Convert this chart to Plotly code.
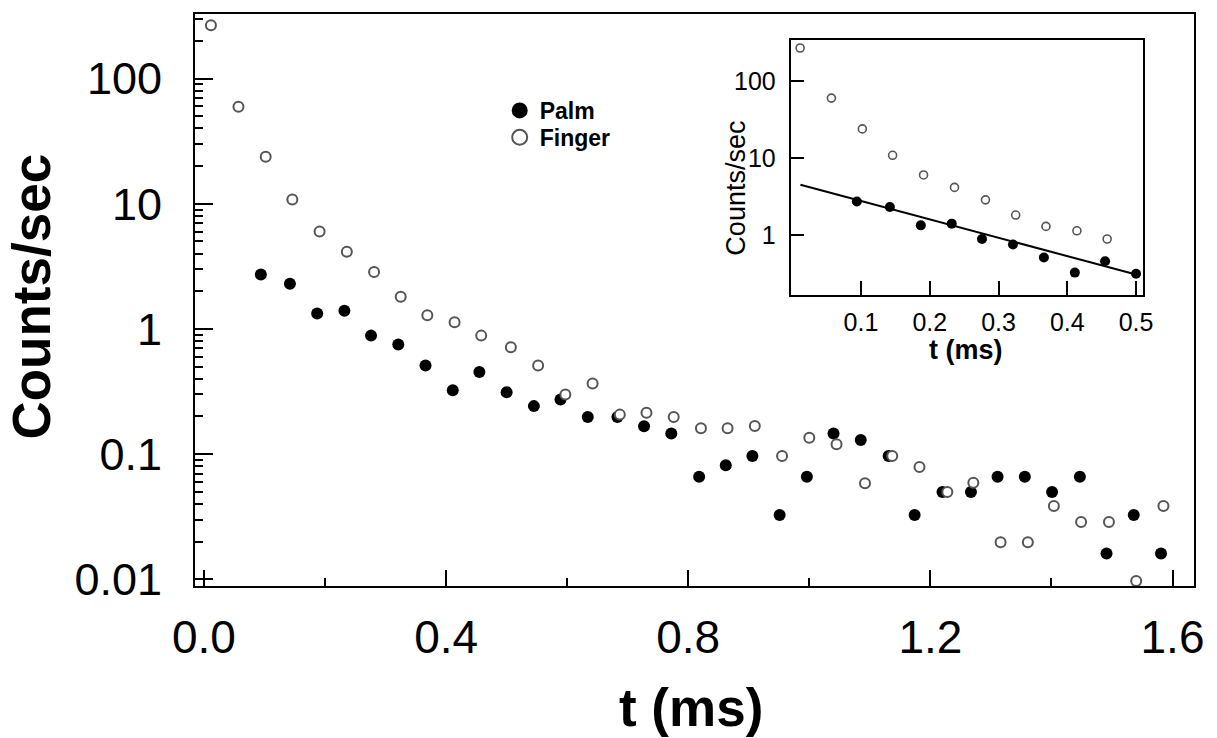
import plotly.graph_objects as go

# ---------------- data ----------------
palm_t = [0.094, 0.142, 0.187, 0.232, 0.276, 0.321, 0.366, 0.411, 0.455, 0.500,
          0.545, 0.589, 0.634, 0.683, 0.727, 0.772, 0.818, 0.862, 0.906, 0.951,
          0.996, 1.040, 1.085, 1.131, 1.174, 1.220, 1.267, 1.311, 1.356, 1.401,
          1.447, 1.491, 1.536, 1.581]
palm_counts = [2.72, 2.30, 1.33, 1.40, 0.885, 0.751, 0.51, 0.324, 0.454, 0.313,
               0.242, 0.273, 0.198, 0.198, 0.167, 0.146, 0.066, 0.0814, 0.0966, 0.0327,
               0.066, 0.146, 0.13, 0.0966, 0.0327, 0.0499, 0.0499, 0.066, 0.066, 0.0499,
               0.066, 0.0161, 0.0327, 0.0161]

finger_t = [0.0115, 0.057, 0.102, 0.146, 0.191, 0.236, 0.281, 0.325, 0.369, 0.414,
            0.458, 0.507, 0.552, 0.597, 0.642, 0.687, 0.731, 0.776, 0.821, 0.865,
            0.910, 0.955, 1.000, 1.045, 1.092, 1.137, 1.182, 1.228, 1.271, 1.316,
            1.361, 1.404, 1.449, 1.495, 1.540, 1.585]
finger_counts = [267, 59.7, 23.8, 10.8, 6.0, 4.14, 2.85, 1.81, 1.29, 1.13,
                 0.885, 0.715, 0.51, 0.30, 0.367, 0.207, 0.214, 0.198, 0.161, 0.161,
                 0.168, 0.0966, 0.135, 0.12, 0.0585, 0.0966, 0.0789, 0.0499, 0.0592, 0.0198,
                 0.0198, 0.0385, 0.0287, 0.0287, 0.0097, 0.0385]

# exponential fit to palm data shown in the inset (end points of the straight line on log scale)
fit_t = [0.012, 0.500]
fit_counts = [4.48, 0.306]

inset_t_max = 0.502

x_ticks = [0.0, 0.4, 0.8, 1.2, 1.6]
x_tick_text = ["0.0", "0.4", "0.8", "1.2", "1.6"]
x_minor = [0.2, 0.6, 1.0, 1.4]
y_ticks = [0.01, 0.1, 1, 10, 100]
y_tick_text = ["0.01", "0.1", "1", "10", "100"]
y_minor = [m * 10 ** e for e in range(-2, 3) for m in range(2, 10)]

inset_x_ticks = [0.1, 0.2, 0.3, 0.4, 0.5]
inset_x_text = ["0.1", "0.2", "0.3", "0.4", "0.5"]
inset_y_ticks = [1, 10, 100]
inset_y_text = ["1", "10", "100"]

FONT = "Liberation Sans, Arial, sans-serif"

# ---------------- figure ----------------
fig = go.Figure()

palm_marker = dict(symbol="circle", size=12, color="black", line=dict(width=0))
finger_marker = dict(symbol="circle", size=10, color="white", line=dict(color="#555555", width=2))

fig.add_trace(go.Scatter(x=palm_t, y=palm_counts, mode="markers", marker=palm_marker,
                         showlegend=False, xaxis="x", yaxis="y"))
fig.add_trace(go.Scatter(x=finger_t, y=finger_counts, mode="markers", marker=finger_marker,
                         showlegend=False, xaxis="x", yaxis="y"))

# legend entries (one legend box each, to control the row spacing)
fig.add_trace(go.Scatter(x=[None], y=[None], mode="markers", name="Palm", legend="legend",
                         marker=dict(symbol="circle", size=16, color="black")))
fig.add_trace(go.Scatter(x=[None], y=[None], mode="markers", name="Finger", legend="legend2",
                         marker=dict(symbol="circle", size=15, color="white",
                                     line=dict(color="#555555", width=2))))

# inset
ip_t = [t for t in palm_t if t <= inset_t_max]
ip_c = [c for t, c in zip(palm_t, palm_counts) if t <= inset_t_max]
if_t = [t for t in finger_t if t <= inset_t_max]
if_c = [c for t, c in zip(finger_t, finger_counts) if t <= inset_t_max]

fig.add_trace(go.Scatter(x=fit_t, y=fit_counts, mode="lines", line=dict(color="black", width=2),
                         showlegend=False, xaxis="x2", yaxis="y2"))
fig.add_trace(go.Scatter(x=ip_t, y=ip_c, mode="markers",
                         marker=dict(symbol="circle", size=10, color="black"),
                         showlegend=False, xaxis="x2", yaxis="y2"))
fig.add_trace(go.Scatter(x=if_t, y=if_c, mode="markers",
                         marker=dict(symbol="circle", size=8, color="white",
                                     line=dict(color="#555555", width=1.6)),
                         showlegend=False, xaxis="x2", yaxis="y2"))

axis_common = dict(showgrid=False, zeroline=False, showline=True, linecolor="black",
                   linewidth=2, mirror=True, ticks="inside", tickcolor="black")

legend_common = dict(xanchor="left", yanchor="top", bgcolor="rgba(0,0,0,0)", borderwidth=0,
                     font=dict(family=FONT, size=23, weight="bold", color="black"),
                     itemsizing="trace")

fig.update_layout(
    width=1217, height=738,
    margin=dict(l=195, r=17, t=13, b=152),
    paper_bgcolor="white", plot_bgcolor="white",
    font=dict(family=FONT, color="black"),
    xaxis=dict(**axis_common, domain=[0, 1], range=[-0.0148, 1.6355],
               tickvals=x_ticks, ticktext=x_tick_text, ticklen=16, tickwidth=2,
               tickfont=dict(size=46), ticklabelstandoff=10,
               minor=dict(tickvals=x_minor, ticks="inside", ticklen=8, tickwidth=1.5,
                          tickcolor="black", showgrid=False)),
    yaxis=dict(**axis_common, type="log", domain=[0, 1], range=[-2.053, 2.516],
               tickvals=y_ticks, ticktext=y_tick_text, ticklen=18, tickwidth=2,
               tickfont=dict(size=45), ticklabelstandoff=22,
               minor=dict(tickvals=y_minor, ticks="inside", ticklen=8, tickwidth=1.5,
                          tickcolor="black", showgrid=False)),
    xaxis2=dict(**axis_common, anchor="y2", domain=[0.5963, 0.9486], range=[-0.0022, 0.5096],
                tickvals=inset_x_ticks, ticktext=inset_x_text, ticklen=14, tickwidth=2,
                tickfont=dict(size=25), ticklabelstandoff=4),
    yaxis2=dict(**axis_common, anchor="x2", type="log", domain=[0.5096, 0.9546],
                range=[-0.774, 2.531],
                tickvals=inset_y_ticks, ticktext=inset_y_text, ticklen=13, tickwidth=2,
                tickfont=dict(size=25), ticklabelstandoff=8),
    legend=dict(**legend_common, x=0.305, y=0.869),
    legend2=dict(**legend_common, x=0.305, y=0.822),
    annotations=[
        dict(text="Counts/sec", xref="paper", yref="paper", x=-0.1632, y=0.506,
             xanchor="center", yanchor="middle", textangle=-90, showarrow=False,
             font=dict(family=FONT, size=53, weight="bold", color="black")),
        dict(text="t (ms)", xref="paper", yref="paper", x=0.4965, y=-0.2129,
             xanchor="center", yanchor="middle", showarrow=False,
             font=dict(family=FONT, size=53, weight="bold", color="black")),
        dict(text="Counts/sec", xref="paper", yref="paper", x=0.542, y=0.6955,
             xanchor="center", yanchor="middle", textangle=-90, showarrow=False,
             font=dict(family=FONT, size=27, color="black")),
        dict(text="t (ms)", xref="paper", yref="paper", x=0.772, y=0.412,
             xanchor="center", yanchor="middle", showarrow=False,
             font=dict(family=FONT, size=27, weight="bold", color="black")),
    ],
)

fig.write_html("out.html")
